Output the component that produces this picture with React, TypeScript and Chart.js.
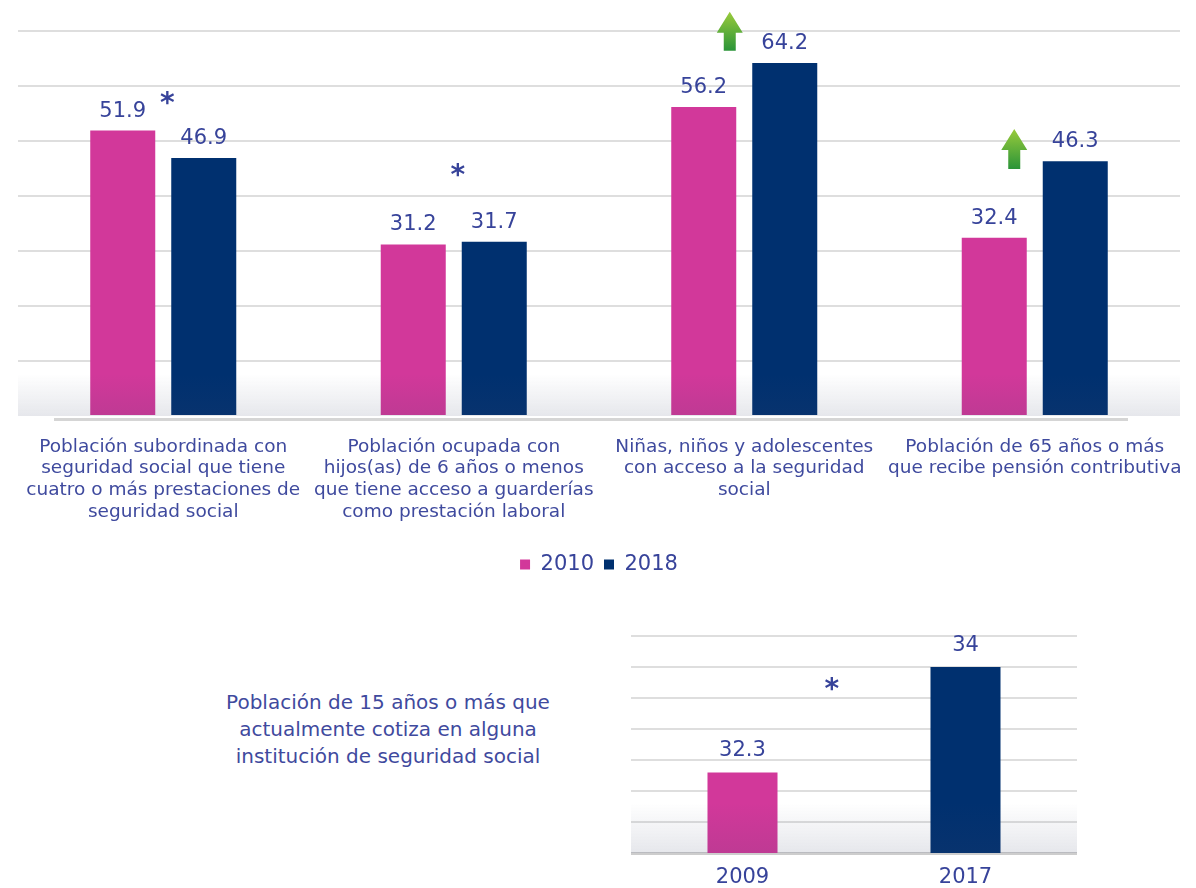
import React, { useEffect, useRef } from 'react';
import { Chart, registerables } from 'chart.js';

Chart.register(...registerables);

// ---------- Data ----------
const topCategories: string[][] = [
  ['Población subordinada con', 'seguridad social que tiene', 'cuatro o más prestaciones de', 'seguridad social'],
  ['Población ocupada con', 'hijos(as) de 6 años o menos', 'que tiene acceso a guarderías', 'como prestación laboral'],
  ['Niñas, niños y adolescentes', 'con acceso a la seguridad', 'social'],
  ['Población de 65 años o más', 'que recibe pensión contributiva'],
];
const seriesNames = ['2010', '2018'];
const values2010 = [51.9, 31.2, 56.2, 32.4];
const values2018 = [46.9, 31.7, 64.2, 46.3];
const topAxisMin = 0;
const topAxisMax = 70;
const topAxisStep = 10;

// significance markers / increase arrows (category index, value position)
const topAsterisks = [
  { index: 0, value: 57.8 },
  { index: 1, value: 44.7 },
];
const topArrows = [
  { index: 2, from: 66.4, to: 73.5 },
  { index: 3, from: 44.9, to: 52.2 },
];

const bottomCategories = ['2009', '2017'];
const bottomValues = [32.3, 34];
const bottomAxisMin = 31;
const bottomAxisMax = 34.5;
const bottomAxisStep = 0.5;
const bottomAsterisks = [{ index: 0.4, value: 33.73 }];
const bottomTitle = ['Población de 15 años o más que', 'actualmente cotiza en alguna', 'institución de seguridad social'];

// ---------- Styles ----------
const PINK = '#d2389a';
const NAVY = '#00306f';
const TEXT = '#37439a';
const LABEL = '#3f4a9e';
const GRID = '#dedede';
const FONT = '"DejaVu Sans", sans-serif';

function drawArrow(ctx: CanvasRenderingContext2D, cx: number, yTop: number, yBottom: number) {
  const headW = 26, headH = 21, shaftW = 12;
  const g = ctx.createLinearGradient(0, yTop, 0, yBottom);
  g.addColorStop(0, '#9acb3c');
  g.addColorStop(1, '#2a9438');
  ctx.save();
  ctx.fillStyle = g;
  ctx.beginPath();
  ctx.moveTo(cx, yTop);
  ctx.lineTo(cx + headW / 2, yTop + headH);
  ctx.lineTo(cx + shaftW / 2, yTop + headH);
  ctx.lineTo(cx + shaftW / 2, yBottom);
  ctx.lineTo(cx - shaftW / 2, yBottom);
  ctx.lineTo(cx - shaftW / 2, yTop + headH);
  ctx.lineTo(cx - headW / 2, yTop + headH);
  ctx.closePath();
  ctx.fill();
  ctx.restore();
}

function drawAsterisk(ctx: CanvasRenderingContext2D, x: number, y: number) {
  ctx.save();
  ctx.fillStyle = TEXT;
  ctx.font = `bold 28px ${FONT}`;
  ctx.textAlign = 'center';
  ctx.textBaseline = 'middle';
  ctx.fillText('*', x, y + 7);
  ctx.restore();
}

function drawFloor(ctx: CanvasRenderingContext2D, a: any, depth: number) {
  const g = ctx.createLinearGradient(0, a.bottom - depth, 0, a.bottom);
  g.addColorStop(0, 'rgba(60,70,105,0)');
  g.addColorStop(1, 'rgba(60,70,105,0.13)');
  ctx.save();
  ctx.fillStyle = g;
  ctx.fillRect(a.left, a.bottom - depth, a.right - a.left, depth);
  ctx.restore();
}

function drawValueLabels(chart: any, gap: number, size: number) {
  const ctx = chart.ctx;
  ctx.save();
  ctx.fillStyle = TEXT;
  ctx.font = `${size}px ${FONT}`;
  ctx.textAlign = 'center';
  ctx.textBaseline = 'alphabetic';
  chart.data.datasets.forEach((ds: any, i: number) => {
    const meta = chart.getDatasetMeta(i);
    meta.data.forEach((bar: any, j: number) => {
      ctx.fillText(String(ds.data[j]), bar.x, bar.y - gap);
    });
  });
  ctx.restore();
}

const topDecor = {
  id: 'topDecor',
  afterDatasetsDraw(chart: any) {
    const { ctx, chartArea: a } = chart;
    drawFloor(ctx, a, 42);
    ctx.save();
    ctx.strokeStyle = '#d5d5d5';
    ctx.lineWidth = 3;
    ctx.beginPath();
    ctx.moveTo(a.left + 36, a.bottom + 3.5);
    ctx.lineTo(a.right - 52, a.bottom + 3.5);
    ctx.stroke();
    ctx.restore();
  },
  afterDraw(chart: any) {
    const { ctx, scales } = chart;
    drawValueLabels(chart, 14, 21);
    topAsterisks.forEach((s) => {
      drawAsterisk(ctx, scales.x.getPixelForValue(s.index) + 4, scales.y.getPixelForValue(s.value));
    });
    const arrowDx = [-14.5, -20.5];
    topArrows.forEach((ar, k) => {
      drawArrow(ctx, scales.x.getPixelForValue(ar.index) + arrowDx[k], scales.y.getPixelForValue(ar.to), scales.y.getPixelForValue(ar.from));
    });
  },
};

const bottomDecor = {
  id: 'bottomDecor',
  afterDatasetsDraw(chart: any) {
    const { ctx, chartArea: a } = chart;
    drawFloor(ctx, a, 50);
  },
  afterDraw(chart: any) {
    const { ctx, scales } = chart;
    drawValueLabels(chart, 16, 21);
    bottomAsterisks.forEach((s) => {
      drawAsterisk(ctx, scales.x.getPixelForValue(s.index), scales.y.getPixelForValue(s.value));
    });
  },
};

export default function App() {
  const topRef = useRef<HTMLCanvasElement>(null);
  const bottomRef = useRef<HTMLCanvasElement>(null);

  useEffect(() => {
    const top = new Chart(topRef.current as HTMLCanvasElement, {
      type: 'bar',
      data: {
        labels: topCategories,
        datasets: [
          { label: seriesNames[0], data: values2010, backgroundColor: PINK, borderWidth: 0 },
          { label: seriesNames[1], data: values2018, backgroundColor: NAVY, borderWidth: 0 },
        ],
      },
      options: {
        responsive: false,
        animation: false,
        events: [],
        layout: { padding: { left: 18, right: 16, top: 31, bottom: 0 } },
        datasets: { bar: { categoryPercentage: 0.5577, barPercentage: 0.8025 } },
        plugins: {
          tooltip: { enabled: false },
          legend: {
            position: 'bottom',
            labels: {
              boxWidth: 10,
              boxHeight: 10,
              padding: 10,
              color: TEXT,
              font: { family: FONT, size: 21 },
            },
          },
        },
        scales: {
          x: {
            grid: { display: false, drawTicks: false },
            border: { display: false },
            ticks: {
              padding: 20,
              color: LABEL,
              maxRotation: 0,
              autoSkip: false,
              font: { family: FONT, size: 18.5, lineHeight: '21.7px' },
            },
            afterFit: (s: any) => {
              s.height = 128;
              s.paddingLeft = 0;
              s.paddingRight = 0;
            },
          },
          y: {
            min: topAxisMin,
            max: topAxisMax,
            ticks: { display: false, stepSize: topAxisStep },
            border: { display: false },
            grid: {
              drawTicks: false,
              lineWidth: 2,
              color: (c: any) => (c.tick && c.tick.value === topAxisMin ? 'rgba(0,0,0,0)' : GRID),
            },
          },
        },
      },
      plugins: [topDecor],
    } as any);

    const bottom = new Chart(bottomRef.current as HTMLCanvasElement, {
      type: 'bar',
      data: {
        labels: bottomCategories,
        datasets: [
          { label: 'valor', data: bottomValues, backgroundColor: [PINK, NAVY], borderWidth: 0 },
        ],
      },
      options: {
        responsive: false,
        animation: false,
        events: [],
        layout: { padding: { left: 31, right: 23, top: 36, bottom: 0 } },
        datasets: { bar: { categoryPercentage: 1, barPercentage: 0.314 } },
        plugins: { tooltip: { enabled: false }, legend: { display: false } },
        scales: {
          x: {
            grid: { display: false, drawTicks: false },
            border: { display: false },
            ticks: { padding: 12, color: TEXT, font: { family: FONT, size: 21, lineHeight: 1.2 } },
            afterFit: (s: any) => {
              s.height = 35;
              s.paddingLeft = 0;
              s.paddingRight = 0;
            },
          },
          y: {
            min: bottomAxisMin,
            max: bottomAxisMax,
            ticks: { display: false, stepSize: bottomAxisStep },
            border: { display: false },
            grid: {
              drawTicks: false,
              lineWidth: (c: any) => (c.tick && c.tick.value === bottomAxisMin ? 3 : 2),
              color: (c: any) => (c.tick && c.tick.value === bottomAxisMin ? '#cdcdcd' : GRID),
            },
          },
        },
      },
      plugins: [bottomDecor],
    } as any);

    return () => {
      top.destroy();
      bottom.destroy();
    };
  }, []);

  return (
    <div style={{ position: 'absolute', left: 0, top: 0, width: 1196, height: 888, background: '#ffffff', overflow: 'hidden' }}>
      <canvas ref={topRef} width={1196} height={585} style={{ position: 'absolute', left: 0, top: 0 }} />
      <div
        style={{
          position: 'absolute',
          left: 188,
          top: 689,
          width: 400,
          textAlign: 'center',
          fontFamily: FONT,
          fontSize: 20,
          lineHeight: '27px',
          color: LABEL,
        }}
      >
        {bottomTitle.map((t, i) => (
          <div key={i}>{t}</div>
        ))}
      </div>
      <canvas ref={bottomRef} width={500} height={288} style={{ position: 'absolute', left: 600, top: 600 }} />
    </div>
  );
}
